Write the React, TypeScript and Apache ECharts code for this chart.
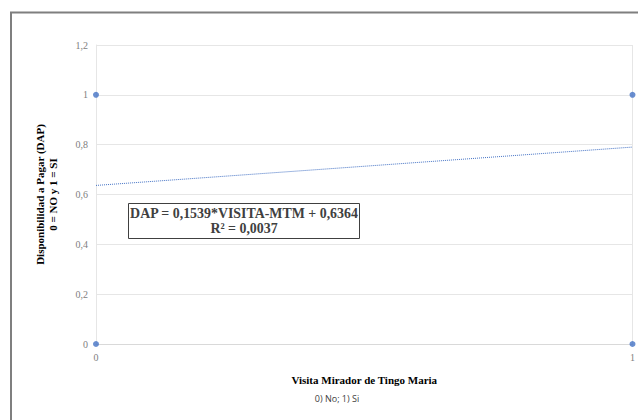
import React, { useEffect, useRef } from "react";
import * as echarts from "echarts";

const observedPoints: [number, number][] = [
  [0, 0],
  [0, 1],
  [1, 0],
  [1, 1],
];
const trendLine: [number, number][] = [
  [0, 0.6364],
  [1, 0.7903],
];
const equationLines = ["DAP = 0,1539*VISITA-MTM + 0,6364", "R² = 0,0037"];
const yAxisTitle = "Disponibilidad a Pagar (DAP)\n0 = NO y 1 = SI";
const xAxisTitle = "Visita Mirador de Tingo Maria";
const xAxisSubtitle = "0) No; 1) Si";

const SERIF = "'Liberation Serif', 'Times New Roman', serif";
const BLUE = "#4472c4";

export default function App() {
  const ref = useRef<HTMLDivElement>(null);
  useEffect(() => {
    if (!ref.current) return;
    const chart = echarts.init(ref.current, undefined, { renderer: "svg" });
    chart.setOption({
      animation: false,
      backgroundColor: "#ffffff",
      grid: { left: 96, right: 2, top: 45, bottom: 76, containLabel: false },
      xAxis: {
        type: "value",
        min: 0,
        max: 1,
        interval: 1,
        name: xAxisTitle,
        nameLocation: "middle",
        nameGap: 30,
        nameTextStyle: { fontFamily: SERIF, fontWeight: "bold", fontSize: 11, color: "#000" },
        axisLine: { show: true, onZero: false, lineStyle: { color: "#d9d9d9", width: 1 } },
        axisTick: { show: false },
        axisLabel: { color: "#808080", fontFamily: SERIF, fontSize: 10, margin: 8 },
        splitLine: { show: true, lineStyle: { color: "#e6e6e6", width: 1 } },
      },
      yAxis: {
        type: "value",
        min: 0,
        max: 1.2,
        interval: 0.2,
        name: yAxisTitle,
        nameLocation: "middle",
        nameRotate: 90,
        nameGap: 37,
        nameTextStyle: {
          fontFamily: SERIF,
          fontWeight: "bold",
          fontSize: 11,
          lineHeight: 13,
          color: "#000",
          align: "center",
        },
        axisLine: { show: true, lineStyle: { color: "#e6e6e6", width: 1 } },
        axisTick: { show: false },
        axisLabel: {
          color: "#808080",
          fontFamily: SERIF,
          fontSize: 10,
          margin: 8,
          formatter: (v: number) => String(Math.round(v * 10) / 10).replace(".", ","),
        },
        splitLine: { show: true, lineStyle: { color: "#e6e6e6", width: 1 } },
      },
      series: [
        {
          type: "line",
          data: trendLine,
          symbol: "none",
          lineStyle: { color: BLUE, width: 1, type: [1, 1] },
          z: 2,
        },
        {
          type: "scatter",
          data: observedPoints,
          symbolSize: 6,
          itemStyle: { color: BLUE },
          z: 3,
        },
      ],
      graphic: [
        {
          type: "rect",
          shape: { x: 11, y: 12.5, width: 700, height: 500 },
          style: { fill: "none", stroke: "#7f7f7f", lineWidth: 2 },
          z: 10,
        },
        {
          type: "rect",
          shape: { x: 128.5, y: 203.5, width: 231, height: 35 },
          style: { fill: "#ffffff", stroke: "#404040", lineWidth: 1 },
          z: 10,
        },
        {
          type: "text",
          x: 244,
          y: 221,
          style: {
            text: equationLines.join("\n"),
            font: `bold 13.9px ${SERIF}`,
            lineHeight: 15,
            fill: "#404040",
            align: "center",
            verticalAlign: "middle",
          },
          z: 11,
        },
        {
          type: "text",
          x: 337,
          y: 398,
          style: {
            text: xAxisSubtitle,
            font: "9px 'Open Sans', 'Noto Sans', sans-serif",
            fill: "#404040",
            align: "center",
            verticalAlign: "middle",
          },
          z: 11,
        },
      ],
    });
    return () => chart.dispose();
  }, []);
  return (
    <div
      ref={ref}
      style={{ position: "absolute", left: 0, top: 0, width: 638, height: 420 }}
    />
  );
}
